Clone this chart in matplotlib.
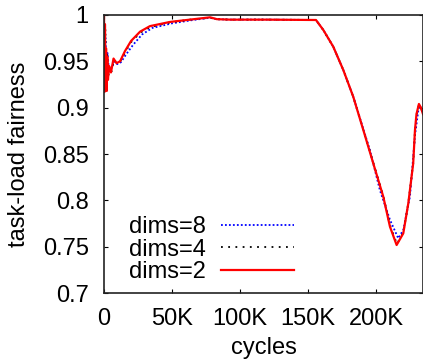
import matplotlib
matplotlib.use("Agg")
import matplotlib.pyplot as plt

plt.rcParams['font.family'] = ['Liberation Sans', 'DejaVu Sans']
plt.rcParams['font.size'] = 17

# cycles in thousands
x_d2 = [0, 0.4, 0.7, 1.1, 1.5, 2.0, 2.4, 2.9, 3.7, 5.1, 7.0, 9.2, 11.8, 15.4, 19.9, 26.5, 33.8,
        48.5, 63.2, 78.0, 83.0, 92.6, 120.0, 155.9, 161.3, 168.6, 176.0, 183.3, 190.7, 198.0,
        205.4, 210.3, 215.2, 220.1, 223.8, 227.4, 228.7, 229.8, 231.6, 233.1, 234.6]
y_d2 = [1.0, 0.917, 0.99, 0.92, 0.964, 0.918, 0.955, 0.93, 0.945, 0.938, 0.953, 0.948, 0.950,
        0.961, 0.972, 0.982, 0.988, 0.9925, 0.995, 0.9975, 0.9955, 0.995, 0.995, 0.9946, 0.9838,
        0.9658, 0.9406, 0.9118, 0.8759, 0.840, 0.8039, 0.7716, 0.7518, 0.7644, 0.7968, 0.840,
        0.876, 0.893, 0.904, 0.900, 0.893]

x_d4 = [0, 0.5, 1.0, 1.6, 2.2, 3.0, 4.0, 5.5, 7.3, 9.5, 12.0, 15.6, 20.1, 26.7, 34.0, 48.7,
        63.4, 78.0, 83.0, 92.6, 120.0, 155.9, 161.3, 168.6, 176.0, 183.3, 190.7, 198.0, 205.4,
        210.3, 215.4, 220.1, 223.8, 227.4, 228.7, 229.8, 231.6, 233.1, 234.6]
y_d4 = [1.0, 0.925, 0.985, 0.925, 0.96, 0.93, 0.945, 0.939, 0.952, 0.948, 0.950, 0.960, 0.971,
        0.981, 0.987, 0.992, 0.995, 0.997, 0.9955, 0.995, 0.995, 0.9946, 0.9838, 0.9658, 0.9406,
        0.9118, 0.876, 0.841, 0.805, 0.773, 0.753, 0.765, 0.797, 0.840, 0.875, 0.892, 0.903,
        0.900, 0.893]

x_d8 = [0, 0.5, 1.0, 1.8, 2.6, 3.5, 4.8, 6.0, 7.6, 9.8, 12.4, 16.5, 21.5, 28.0, 35.5, 50.0,
        65.0, 78.0, 83.0, 92.6, 120.0, 155.9, 161.3, 168.6, 176.0, 183.3, 190.7, 195.6, 202.9,
        210.3, 216.4, 220.1, 225.0, 228.7, 231.6, 233.1, 234.6]
y_d8 = [1.0, 0.94, 0.975, 0.945, 0.959, 0.942, 0.941, 0.944, 0.950, 0.947, 0.949, 0.958,
        0.968, 0.979, 0.986, 0.991, 0.9945, 0.997, 0.9955, 0.995, 0.995, 0.9946, 0.9838, 0.9658,
        0.9406, 0.9118, 0.877, 0.854, 0.811, 0.779, 0.759, 0.768, 0.804, 0.870, 0.902, 0.900,
        0.893]

labels = ['dims=8', 'dims=4', 'dims=2']
xticks = [0, 50, 100, 150, 200]
xtick_labels = ['0', '50K', '100K', '150K', '200K']
yticks = [0.7, 0.75, 0.8, 0.85, 0.9, 0.95, 1.0]
ytick_labels = ['0.7', '0.75', '0.8', '0.85', '0.9', '0.95', '1']

fig = plt.figure(figsize=(4.23, 3.64), dpi=100)
ax = fig.add_axes([0.2459, 0.195, 0.7541, 0.7638])

ax.plot(x_d8, y_d8, color='#0000ff', linestyle=(0, (1, 1.2)), linewidth=1.3, label=labels[0])
ax.plot(x_d4, y_d4, color='black', linestyle=(0, (1, 3)), linewidth=1.3, label=labels[1])
ax.plot(x_d2, y_d2, color='#ff0000', linestyle='-', linewidth=1.6, label=labels[2])

ax.set_xlim(0, 234.6)
ax.set_ylim(0.7, 1.0)
ax.set_xticks(xticks)
ax.set_xticklabels(xtick_labels)
ax.set_yticks(yticks)
ax.set_yticklabels(ytick_labels)
ax.tick_params(direction='in', length=3, width=0.8, top=True, right=True, pad=11)
for s in ax.spines.values():
    s.set_linewidth(1.2)
    s.set_color('#222222')

ax.set_xlabel('cycles', labelpad=5)
ax.set_ylabel('task-load fairness', labelpad=9)

ax.legend(loc='lower left', bbox_to_anchor=(0.025, -0.025), frameon=False, markerfirst=False,
          handlelength=3.1, handletextpad=0.64, labelspacing=0.03, borderpad=0.2)

fig.savefig('out.png', dpi=100)
